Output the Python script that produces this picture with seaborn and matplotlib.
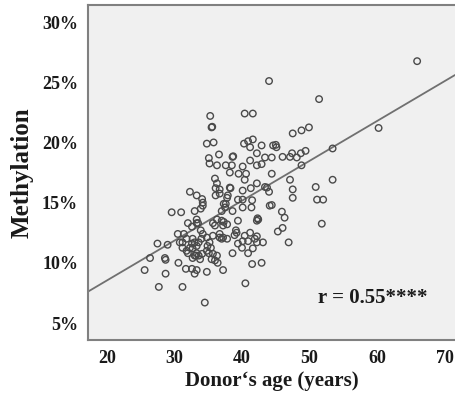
import matplotlib
matplotlib.use("Agg")
import matplotlib.pyplot as plt
import seaborn as sns
import pandas as pd

age = [25.6, 26.4, 27.5, 27.7, 28.6, 28.7, 28.7, 29.0, 29.6, 30.5, 30.6, 30.8, 31.0, 31.2, 31.2, 31.4,
       31.2, 31.7, 31.8, 31.8, 32.0, 32.0, 32.6, 32.6, 32.3, 32.3, 32.7, 32.7, 32.6, 32.7, 33.0, 33.0,
       33.0, 33.0, 33.2, 33.3, 33.3, 33.3, 33.3, 33.3, 33.3, 33.5, 33.6, 33.6, 33.8, 33.9, 33.9, 34.0,
       34.1, 34.2, 34.2, 34.2, 34.1, 34.5, 34.8, 34.8, 34.8, 34.9, 34.8, 35.1, 35.1, 35.2, 35.2, 35.3,
       35.5, 35.6, 35.4, 35.5, 35.7, 35.7, 35.7, 35.8, 36.0, 36.0, 36.0, 36.1, 36.1, 36.3, 36.3, 36.3,
       36.3, 36.4, 36.6, 36.7, 36.7, 36.7, 36.7, 37.0, 37.0, 37.0, 37.2, 37.2, 37.2, 37.3, 37.3, 37.5,
       37.6, 37.6, 37.8, 37.8, 37.8, 37.9, 38.2, 38.2, 38.3, 38.5, 38.6, 38.7, 38.6, 38.6, 38.9, 39.1,
       39.2, 39.4, 39.4, 39.4, 39.5, 40.0, 40.1, 40.1, 40.1, 40.1, 40.1, 40.3, 40.4, 40.4, 40.4, 40.5,
       40.6, 40.9, 40.9, 40.9, 41.2, 41.2, 41.2, 41.3, 41.4, 41.5, 41.5, 41.6, 41.6, 41.6, 41.9, 42.2,
       42.2, 42.2, 42.2, 42.3, 42.4, 42.2, 42.2, 42.9, 42.9, 42.9, 43.1, 43.4, 43.4, 43.7, 44.0, 44.0,
       44.1, 44.4, 44.4, 44.4, 44.6, 45.0, 45.1, 45.3, 45.9, 46.0, 46.0, 46.3, 46.9, 47.1, 47.1, 47.4,
       47.5, 47.5, 47.5, 48.1, 48.7, 48.8, 48.8, 49.4, 49.9, 50.9, 51.1, 51.4, 51.8, 52.0, 53.4, 53.4,
       60.2, 65.9]
methylation = [9.4, 10.4, 11.6, 8.0, 10.4, 10.25, 9.1, 11.5, 14.2, 12.4, 10.0, 11.7, 14.2, 8.0, 11.7, 12.4,
               11.25, 9.5, 12.0, 11.0, 10.8, 13.3, 13.0, 9.5, 15.9, 11.25, 11.2, 12.0, 11.6, 10.4, 14.3, 11.7,
               9.1, 10.6, 10.6, 15.6, 13.6, 13.3, 11.4, 9.4, 10.8, 13.3, 11.7, 10.6, 10.3, 12.7, 14.5, 12.0,
               15.3, 15.0, 14.75, 12.4, 10.75, 6.7, 9.25, 12.1, 11.0, 11.4, 19.9, 18.7, 10.8, 18.25, 11.7, 22.2,
               21.25, 21.3, 11.25, 10.3, 13.3, 12.25, 10.75, 20.0, 17.0, 13.1, 10.2, 15.6, 16.2, 18.1, 16.6, 13.6,
               10.6, 10.0, 19.0, 16.1, 15.75, 12.4, 12.1, 14.3, 13.5, 12.0, 13.1, 12.1, 9.4, 14.9, 13.4, 14.6,
               18.1, 14.9, 15.4, 13.2, 12.0, 15.6, 17.5, 16.25, 16.2, 18.1, 18.8, 18.85, 14.3, 10.8, 12.3, 12.7,
               12.5, 15.25, 13.5, 11.6, 17.4, 11.25, 18.0, 16.0, 15.25, 14.6, 11.8, 19.9, 22.4, 16.9, 12.25, 8.3,
               17.4, 20.1, 11.8, 10.8, 19.6, 18.5, 12.5, 16.2, 14.6, 15.2, 9.9, 22.4, 20.25, 11.2, 12.0, 19.1,
               18.1, 16.6, 13.5, 13.7, 13.6, 12.2, 11.7, 19.75, 18.2, 10.0, 11.7, 18.75, 16.3, 16.25, 25.1, 15.9,
               14.75, 18.75, 17.4, 14.8, 19.75, 19.8, 19.6, 12.6, 14.25, 18.8, 12.9, 13.75, 11.7, 18.8, 16.9, 19.1,
               20.75, 16.1, 15.4, 18.75, 19.1, 21.0, 18.1, 19.3, 21.25, 16.3, 15.25, 23.6, 13.25, 15.25, 19.5, 16.9,
               21.2, 26.75]

fit_x = [17.2, 71.5]
fit_y = [7.6, 25.6]

y_ticks = [5, 10, 15, 20, 25, 30]
y_tick_labels = ["5%", "10%", "15%", "20%", "25%", "30%"]
x_ticks = [20, 30, 40, 50, 60, 70]
annotation = "r = 0.55****"

df = pd.DataFrame({"age": age, "methylation": methylation})

sns.set_style("white")
plt.rcParams["font.family"] = ["Liberation Serif", "DejaVu Serif"]
plt.rcParams["font.weight"] = "bold"

fig = plt.figure(figsize=(4.55, 3.98), dpi=100)
ax = fig.add_axes([0.193, 0.146, 0.807, 0.841])
ax.set_facecolor("#f0f0f0")

sns.lineplot(x=fit_x, y=fit_y, ax=ax, color="#707070", linewidth=1.3, zorder=2)
sns.scatterplot(data=df, x="age", y="methylation", ax=ax, marker="o", s=22,
                fc="none", ec="#4a4a4a", linewidth=1.0, zorder=3)

ax.set_xlim(17.2, 71.5)
ax.set_ylim(3.6, 31.4)
ax.set_xticks(x_ticks)
ax.set_xticklabels([str(t) for t in x_ticks])
ax.set_yticks(y_ticks)
ax.set_yticklabels(y_tick_labels)
ax.tick_params(axis="both", direction="out", length=4, width=1, color="#707070",
               labelsize=13, labelcolor="#1a1a1a", pad=3)
for lab in ax.get_xticklabels() + ax.get_yticklabels():
    lab.set_fontweight("bold")

for side in ["left", "bottom", "top"]:
    ax.spines[side].set_color("#808080")
    ax.spines[side].set_linewidth(1.5)
ax.spines["right"].set_visible(False)

ax.set_xlabel("Donor\u2018s age (years)", fontsize=15, fontweight="bold", color="#1a1a1a", labelpad=3)
ax.set_ylabel("Methylation", fontsize=18, fontweight="bold", color="#1a1a1a", labelpad=6)

ax.text(51.2, 7.1, annotation, fontsize=15, fontweight="bold", color="#1a1a1a",
        ha="left", va="center")

fig.savefig("out.png", dpi=100)
